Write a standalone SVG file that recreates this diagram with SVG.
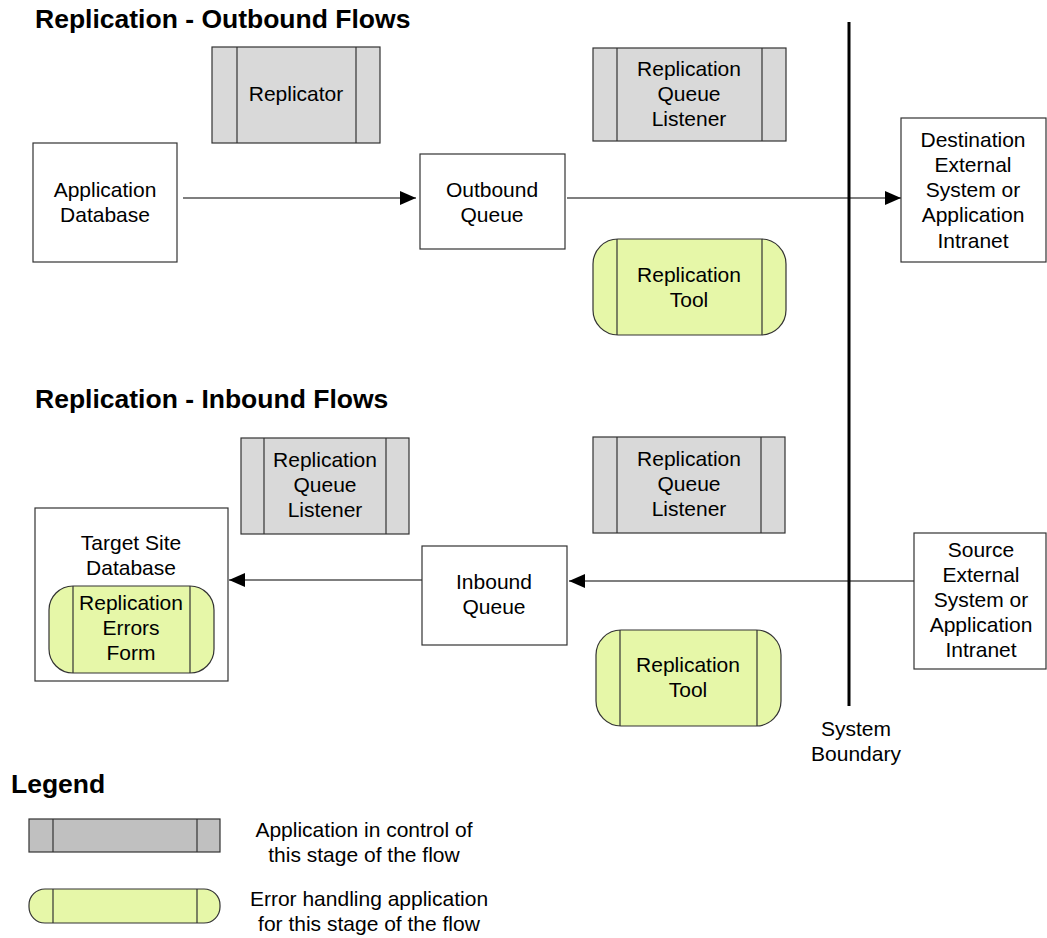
<svg xmlns="http://www.w3.org/2000/svg" width="1047" height="938" viewBox="0 0 1047 938">
<style>
text{font-family:"Liberation Sans",Arial,sans-serif;fill:#000}
.t{font-size:21px;text-anchor:middle}
.h{font-size:26.5px;font-weight:bold}
.box{fill:#fff;stroke:#333;stroke-width:1.2}
.app{fill:#d9d9d9;stroke:#333;stroke-width:1.2}
.err{fill:#e6f7a8;stroke:#333;stroke-width:1.2}
.div{stroke:#333;stroke-width:1.2;fill:none}
.con{stroke:#555;stroke-width:1.5;fill:none}
</style>
<defs>
<marker id="ah" markerUnits="userSpaceOnUse" markerWidth="16" markerHeight="16" viewBox="0 0 16 16" refX="16" refY="8" orient="auto">
<path d="M0,1 L16,8 L0,15 Z" fill="#000"/>
</marker>
</defs>
<rect width="1047" height="938" fill="#fff"/>

<text class="h" x="35" y="28">Replication - Outbound Flows</text>
<text class="h" x="35" y="408">Replication - Inbound Flows</text>
<text class="h" x="11" y="793">Legend</text>

<g id="connectors">
<line class="con" x1="183" y1="198" x2="416" y2="198" marker-end="url(#ah)"/>
<line class="con" x1="567" y1="198" x2="901" y2="198" marker-end="url(#ah)"/>
<line class="con" x1="914" y1="581" x2="569" y2="581" marker-end="url(#ah)"/>
<line class="con" x1="422" y1="580" x2="229" y2="580" marker-end="url(#ah)"/>
</g>

<g id="boundary">
<line x1="849" y1="22" x2="849" y2="706" stroke="#000" stroke-width="3"/>
<text class="t" x="856" y="736">System</text>
<text class="t" x="856" y="761">Boundary</text>
</g>

<g id="replicator">
<rect class="app" x="212" y="47" width="168" height="96"/>
<line class="div" x1="237" y1="47" x2="237" y2="143"/>
<line class="div" x1="356" y1="47" x2="356" y2="143"/>
<text class="t" x="296" y="101">Replicator</text>
</g>

<g id="app-db">
<rect class="box" x="33" y="143" width="144" height="119"/>
<text class="t" x="105" y="197">Application</text>
<text class="t" x="105" y="222">Database</text>
</g>

<g id="outbound-queue">
<rect class="box" x="420" y="154" width="145" height="95"/>
<text class="t" x="492" y="197">Outbound</text>
<text class="t" x="492" y="222">Queue</text>
</g>

<g id="rql-out">
<rect class="app" x="593" y="48" width="193" height="93"/>
<line class="div" x1="617" y1="48" x2="617" y2="141"/>
<line class="div" x1="762" y1="48" x2="762" y2="141"/>
<text class="t" x="689" y="76">Replication</text>
<text class="t" x="689" y="101">Queue</text>
<text class="t" x="689" y="126">Listener</text>
</g>

<g id="tool-out">
<rect class="err" x="593" y="239" width="193" height="96" rx="25" ry="25"/>
<line class="div" x1="617" y1="239" x2="617" y2="335"/>
<line class="div" x1="762" y1="239" x2="762" y2="335"/>
<text class="t" x="689" y="282">Replication</text>
<text class="t" x="689" y="307">Tool</text>
</g>

<g id="destination">
<rect class="box" x="901" y="118" width="145" height="144"/>
<text class="t" x="973" y="147">Destination</text>
<text class="t" x="973" y="172">External</text>
<text class="t" x="973" y="197">System or</text>
<text class="t" x="973" y="222">Application</text>
<text class="t" x="973" y="248">Intranet</text>
</g>

<g id="rql-in-left">
<rect class="app" x="241" y="438" width="168" height="96"/>
<line class="div" x1="264" y1="438" x2="264" y2="534"/>
<line class="div" x1="386" y1="438" x2="386" y2="534"/>
<text class="t" x="325" y="467">Replication</text>
<text class="t" x="325" y="492">Queue</text>
<text class="t" x="325" y="517">Listener</text>
</g>

<g id="rql-in-right">
<rect class="app" x="593" y="437" width="192" height="96"/>
<line class="div" x1="617" y1="437" x2="617" y2="533"/>
<line class="div" x1="761" y1="437" x2="761" y2="533"/>
<text class="t" x="689" y="466">Replication</text>
<text class="t" x="689" y="491">Queue</text>
<text class="t" x="689" y="516">Listener</text>
</g>

<g id="target-db">
<rect class="box" x="35" y="508" width="193" height="173"/>
<text class="t" x="131" y="550">Target Site</text>
<text class="t" x="131" y="575">Database</text>
</g>

<g id="errors-form">
<rect class="err" x="49" y="586" width="165" height="87" rx="24" ry="24"/>
<line class="div" x1="73" y1="586" x2="73" y2="673"/>
<line class="div" x1="190" y1="586" x2="190" y2="673"/>
<text class="t" x="131" y="610">Replication</text>
<text class="t" x="131" y="635">Errors</text>
<text class="t" x="131" y="660">Form</text>
</g>

<g id="inbound-queue">
<rect class="box" x="422" y="546" width="145" height="99"/>
<text class="t" x="494" y="589">Inbound</text>
<text class="t" x="494" y="614">Queue</text>
</g>

<g id="tool-in">
<rect class="err" x="596" y="630" width="185" height="96" rx="25" ry="25"/>
<line class="div" x1="620" y1="630" x2="620" y2="726"/>
<line class="div" x1="757" y1="630" x2="757" y2="726"/>
<text class="t" x="688" y="672">Replication</text>
<text class="t" x="688" y="697">Tool</text>
</g>

<g id="source">
<rect class="box" x="914" y="533" width="132" height="136"/>
<text class="t" x="981" y="557">Source</text>
<text class="t" x="981" y="582">External</text>
<text class="t" x="981" y="607">System or</text>
<text class="t" x="981" y="632">Application</text>
<text class="t" x="981" y="657">Intranet</text>
</g>

<g id="legend-app">
<rect x="29" y="819" width="191" height="33" fill="#c0c0c0" stroke="#333" stroke-width="1.2"/>
<line class="div" x1="53" y1="819" x2="53" y2="852"/>
<line class="div" x1="197" y1="819" x2="197" y2="852"/>
<text class="t" x="364" y="837">Application in control of</text>
<text class="t" x="364" y="862">this stage of the flow</text>
</g>

<g id="legend-err">
<rect class="err" x="29" y="889" width="191" height="34" rx="16" ry="16"/>
<line class="div" x1="53" y1="889" x2="53" y2="923"/>
<line class="div" x1="197" y1="889" x2="197" y2="923"/>
<text class="t" x="369" y="906">Error handling application</text>
<text class="t" x="369" y="931">for this stage of the flow</text>
</g>
</svg>
